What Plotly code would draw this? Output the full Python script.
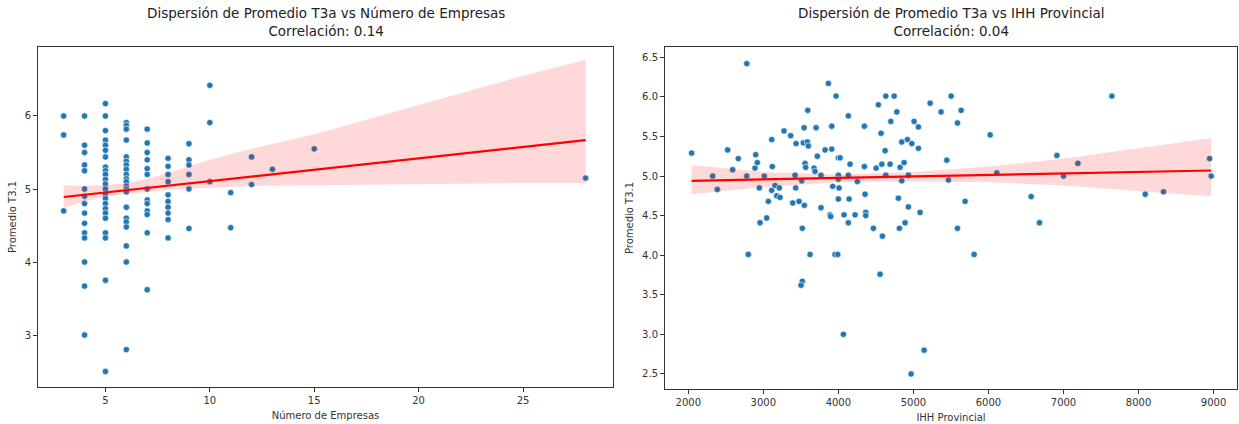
import plotly.graph_objects as go

# ---------------- data: left panel (Número de Empresas) ----------------
emp_cols = [3, 4, 5, 6, 7, 8, 9, 10, 11, 12, 13, 15, 28]
emp_vals = [
    [6.0, 5.74, 4.70],
    [6.0, 5.6, 5.5, 5.33, 5.25, 5.0, 4.9, 4.8, 4.67, 4.53, 4.4, 4.33, 4.0, 3.67, 3.0],
    [6.17, 6.0, 5.8, 5.67, 5.6, 5.53, 5.44, 5.3, 5.25, 5.2, 5.13, 5.07, 5.0, 4.93, 4.87,
     4.8, 4.73, 4.67, 4.6, 4.4, 4.33, 3.75, 2.5],
    [5.91, 5.87, 5.82, 5.67, 5.44, 5.38, 5.33, 5.27, 5.2, 5.14, 5.1, 5.04, 5.0, 4.96,
     4.75, 4.6, 4.55, 4.48, 4.22, 4.0, 2.8],
    [5.82, 5.63, 5.5, 5.4, 5.28, 5.2, 5.0, 4.85, 4.8, 4.7, 4.65, 4.4, 3.62],
    [5.42, 5.31, 5.2, 5.1, 4.92, 4.83, 4.75, 4.67, 4.58, 4.33],
    [5.62, 5.4, 5.33, 5.2, 5.0, 4.46],
    [6.42, 5.91, 5.1],
    [4.95, 4.47],
    [5.44, 5.06],
    [5.27],
    [5.55],
    [5.15],
]
left_reg_x = [3, 28]
left_reg_y = [4.89, 5.67]
left_ci_x = [3, 4, 5, 6, 7, 8, 10, 12, 15, 20, 25, 28]
left_ci_lo = [4.74, 4.83, 4.90, 4.93, 4.96, 4.99, 5.02, 5.04, 5.05, 5.07, 5.08, 5.08]
left_ci_hi = [5.05, 5.04, 5.05, 5.08, 5.14, 5.22, 5.40, 5.55, 5.75, 6.15, 6.55, 6.77]

# ---------------- data: right panel (IHH Provincial) ----------------
ihh = [2045, 2325, 2387, 2525, 2592, 2667, 2779, 2779, 2899, 2920, 2889, 2947, 2956, 3013,
       3067, 3045, 3112, 3120, 3112, 3156, 3179, 3213, 3223, 3276, 3365, 3392, 3436, 3432,
       3423, 3476, 3512, 3520, 3533, 3543, 3556, 3565, 3547, 3592, 3587, 3600, 3676, 3689,
       3703, 3720, 3769, 3769, 3823, 3867, 3889, 3898, 3912, 3912, 3925, 3969, 4000, 4023,
       4000, 4000, 4009, 4000, 4076, 4133, 4156, 4133, 4143, 4133, 4223, 4253, 4347, 4347,
       4356, 4365, 4365, 4467, 4503, 4533, 4569, 4579, 4587, 4623, 4632, 4632, 4689, 4699,
       4743, 4779, 4800, 4813, 4823, 4845, 4845, 4876, 4889, 4920, 4933, 4933, 4979, 5009,
       5067, 5067, 5089, 5223,
       5369, 5445, 5467, 5503, 5587, 5636, 5689, 5587,
       6023, 6112, 5809, 6569, 6680, 6912, 7000, 7192, 7645, 8089, 8333, 8947, 8969,
       2800, 3520, 3503, 3623, 3956, 3992, 4067, 4556, 4969, 5143]
prom_ihh = [5.29, 5.0, 4.83, 5.33, 5.08, 5.22, 6.42, 5.0, 5.27, 5.17, 5.10, 4.85, 4.41, 5.0,
            4.68, 4.47, 5.46, 5.12, 4.82, 4.88, 4.75, 4.85, 4.73, 5.57, 5.51, 4.66, 5.41, 4.85,
            5.01, 4.68, 4.94, 4.34, 5.42, 5.61, 5.16, 5.11, 4.63, 5.83, 5.43, 5.38, 5.10, 5.06,
            5.61, 5.25, 5.01, 4.60, 5.33, 6.17, 4.51, 4.49, 5.63, 5.34, 4.87, 6.01, 5.23, 5.23,
            5.01, 4.96, 4.85, 4.71, 4.51, 5.76, 5.15, 5.01, 4.71, 4.41, 4.51, 4.93, 5.63, 5.12,
            4.77, 4.54, 4.50, 4.34, 5.10, 5.90, 5.54, 5.15, 4.24, 5.32, 6.01, 5.01, 5.15, 5.69,
            6.01, 5.81, 4.72, 4.34, 5.11, 5.43, 4.94, 5.17, 4.41, 5.46, 4.61, 5.01, 5.41, 5.69,
            5.62, 5.35, 4.54, 5.92,
            5.81, 5.20, 4.95, 6.01, 5.67, 5.83, 4.68, 4.34,
            5.52, 5.04, 4.01, 4.74, 4.41, 5.26, 5.0, 5.16, 6.01, 4.77, 4.80, 5.22, 5.0,
            4.01, 3.67, 3.62, 4.01, 4.01, 4.01, 3.0, 3.76, 2.5, 2.8]
right_reg_x = [2045, 8969]
right_reg_y = [4.94, 5.07]
right_ci_x = [2045, 3000, 4000, 5000, 6000, 7000, 8000, 8969]
right_ci_lo = [4.77, 4.86, 4.92, 4.93, 4.92, 4.88, 4.81, 4.74]
right_ci_hi = [5.14, 5.05, 5.02, 5.05, 5.12, 5.22, 5.35, 5.48]

titles = ["Dispersión de Promedio T3a vs Número de Empresas<br>Correlación: 0.14",
          "Dispersión de Promedio T3a vs IHH Provincial<br>Correlación: 0.04"]
x_titles = ["Número de Empresas", "IHH Provincial"]
y_title = "Promedio T3.1"

emp_x = [c for c, vals in zip(emp_cols, emp_vals) for _ in vals]
emp_y = [v for vals in emp_vals for v in vals]

W, H = 1239, 424
FONT = "DejaVu Sans"
BLUE = "#1f77b4"

fig = go.Figure()

def add_panel(xs, ys, ci_x, lo, hi, rx, ry, xa, ya):
    fig.add_trace(go.Scatter(x=xs, y=ys, mode="markers", xaxis=xa, yaxis=ya,
                             marker=dict(color=BLUE, size=6.3, line=dict(color="white", width=0.6)),
                             showlegend=False, hoverinfo="skip"))
    fig.add_trace(go.Scatter(x=list(ci_x) + list(ci_x)[::-1], y=list(hi) + list(lo)[::-1],
                             mode="lines", fill="toself", fillcolor="rgba(255,0,0,0.15)",
                             line=dict(width=0), xaxis=xa, yaxis=ya, showlegend=False,
                             hoverinfo="skip"))
    fig.add_trace(go.Scatter(x=rx, y=ry, mode="lines", line=dict(color="red", width=2.2),
                             xaxis=xa, yaxis=ya, showlegend=False, hoverinfo="skip"))

add_panel(emp_x, emp_y, left_ci_x, left_ci_lo, left_ci_hi, left_reg_x, left_reg_y, "x", "y")
add_panel(ihh, prom_ihh, right_ci_x, right_ci_lo, right_ci_hi, right_reg_x, right_reg_y, "x2", "y2")

def px_x(p):
    return p / W

def px_y(p):
    return 1 - p / H

axis_common = dict(showgrid=False, zeroline=False, showline=True, linecolor="#333",
                   linewidth=1, mirror=True, ticks="outside", ticklen=4, tickcolor="#333",
                   tickfont=dict(family=FONT, size=10, color="#333"),
                   title_font=dict(family=FONT, size=10, color="#333"))

fig.update_layout(
    width=W, height=H, autosize=False,
    margin=dict(l=0, r=0, t=0, b=0),
    paper_bgcolor="white", plot_bgcolor="white",
    font=dict(family=FONT, color="#333"),
    xaxis=dict(domain=[px_x(38), px_x(613)], range=[1.77, 29.31],
               tickvals=[5, 10, 15, 20, 25], title=dict(text=x_titles[0], standoff=6),
               anchor="y", **axis_common),
    yaxis=dict(domain=[px_y(387), px_y(47)], range=[2.288, 6.945],
               tickvals=[3, 4, 5, 6], title=dict(text=y_title, standoff=6),
               anchor="x", **axis_common),
    xaxis2=dict(domain=[px_x(665), px_x(1237)], range=[1690, 9312],
                tickvals=[2000, 3000, 4000, 5000, 6000, 7000, 8000, 9000],
                title=dict(text=x_titles[1], standoff=6), anchor="y2", **axis_common),
    yaxis2=dict(domain=[px_y(389), px_y(47)], range=[2.31, 6.63],
                tickvals=[2.5, 3.0, 3.5, 4.0, 4.5, 5.0, 5.5, 6.0, 6.5], tickformat=".1f",
                title=dict(text=y_title, standoff=6), anchor="x2", **axis_common),
)

for i, (xd, t) in enumerate([("x domain", titles[0]), ("x2 domain", titles[1])]):
    fig.add_annotation(text=t, xref=xd, x=0.5, yref="paper", y=px_y(41),
                       xanchor="center", yanchor="bottom", showarrow=False,
                       font=dict(family=FONT, size=13.5, color="#222"))

fig.write_html("out.html")
